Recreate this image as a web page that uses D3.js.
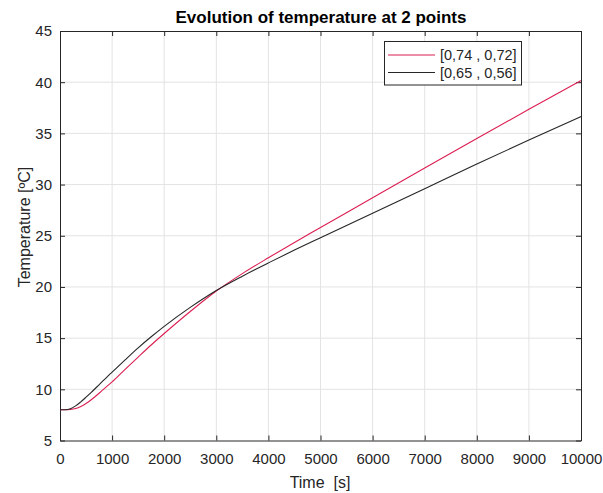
<!DOCTYPE html>
<html><head><meta charset="utf-8">
<script src="https://cdn.jsdelivr.net/npm/d3@7"></script>
<style>
body{margin:0;background:#fff;}
text{font-family:"Liberation Sans",Arial,sans-serif;}
</style></head><body>
<svg id="c" width="603" height="493"></svg>
<script>
const time = [0,100,200,300,400,500,600,700,800,900,1000,1250,1500,1750,2000,2500,3000,3500,4000,4500,5000,6000,7000,8000,9000,10000];
const redValues = [8.0,8.0,8.03,8.13,8.33,8.62,8.98,9.4,9.84,10.28,10.72,11.95,13.15,14.33,15.45,17.6,19.6,21.3,22.85,24.35,25.8,28.72,31.62,34.5,37.35,40.15];
const blackValues = [8.0,8.0,8.1,8.38,8.78,9.23,9.7,10.2,10.7,11.2,11.68,12.88,14.05,15.13,16.15,18.0,19.65,21.05,22.35,23.6,24.8,27.2,29.6,32.0,34.35,36.65];
const xTicks = [0,1000,2000,3000,4000,5000,6000,7000,8000,9000,10000];
const yTicks = [5,10,15,20,25,30,35,40,45];
const seriesNames = ["[0,74 , 0,72]","[0,65 , 0,56]"];
const seriesColors = ["#dc1f52","#262626"];

const L=60,R=581,T=31,B=440.5;
const svg=d3.select("#c");
const x=d3.scaleLinear().domain([0,10000]).range([L,R]);
const y=d3.scaleLinear().domain([5,45]).range([B,T]);
const axC="#262626";

// grid
svg.append("g").selectAll("line").data(xTicks.slice(1,-1)).join("line")
 .attr("x1",d=>x(d)).attr("x2",d=>x(d)).attr("y1",T).attr("y2",B)
 .attr("stroke","#e3e3e3").attr("stroke-width",1);
svg.append("g").selectAll("line").data(yTicks.slice(1,-1)).join("line")
 .attr("y1",d=>y(d)).attr("y2",d=>y(d)).attr("x1",L).attr("x2",R)
 .attr("stroke","#e3e3e3").attr("stroke-width",1);

// axes
const fs="15px";
const gb=svg.append("g").attr("transform",`translate(0,${B})`)
 .call(d3.axisBottom(x).tickValues(xTicks).tickSizeInner(-5).tickSizeOuter(0).tickPadding(13).tickFormat(d3.format("d")));
const gt=svg.append("g").attr("transform",`translate(0,${T})`)
 .call(d3.axisTop(x).tickValues(xTicks).tickSizeInner(-5).tickSizeOuter(0).tickFormat(""));
const gl=svg.append("g").attr("transform",`translate(${L},0)`)
 .call(d3.axisLeft(y).tickValues(yTicks).tickSizeInner(-5).tickSizeOuter(0).tickPadding(8));
const gr=svg.append("g").attr("transform",`translate(${R},0)`)
 .call(d3.axisRight(y).tickValues(yTicks).tickSizeInner(-5).tickSizeOuter(0).tickFormat(""));
[gb,gt,gl,gr].forEach(g=>{
 g.select(".domain").attr("stroke",axC);
 g.selectAll(".tick line").attr("stroke",axC);
 g.selectAll("text").attr("fill",axC).style("font-size",fs).style("font-family","'Liberation Sans',Arial,sans-serif");
});

// lines
const line=d3.line().x(d=>x(d[0])).y(d=>y(d[1])).curve(d3.curveMonotoneX);
[redValues,blackValues].forEach((vals,i)=>{
 svg.append("path").datum(time.map((t,j)=>[t,vals[j]]))
  .attr("d",line).attr("fill","none").attr("stroke",seriesColors[i]).attr("stroke-width",1.1);
});

// legend
const lg=svg.append("g");
lg.append("rect").attr("x",384.5).attr("y",41.5).attr("width",137).attr("height",43.5)
 .attr("fill","#fff").attr("stroke",axC).attr("stroke-width",1);
seriesNames.forEach((n,i)=>{
 const yy=55+i*17.5;
 lg.append("line").attr("x1",388).attr("x2",435).attr("y1",yy).attr("y2",yy)
  .attr("stroke",seriesColors[i]).attr("stroke-width",1.1);
 lg.append("text").attr("x",440).attr("y",yy+5).text(n).attr("fill",axC).style("font-size","14.5px");
});

// labels
svg.append("text").attr("x",321).attr("y",23).attr("text-anchor","middle")
 .style("font-weight","bold").style("font-size","17px").attr("fill","#000")
 .text("Evolution of temperature at 2 points");
svg.append("text").attr("x",320).attr("y",488).attr("text-anchor","middle")
 .style("font-size","16px").attr("fill",axC).attr("xml:space","preserve").style("white-space","pre")
 .text("Time  [s]");
svg.append("text").attr("transform","translate(30,227) rotate(-90)").attr("text-anchor","middle")
 .style("font-size","16px").attr("fill",axC).text("Temperature [ºC]");
</script>
</body></html>
